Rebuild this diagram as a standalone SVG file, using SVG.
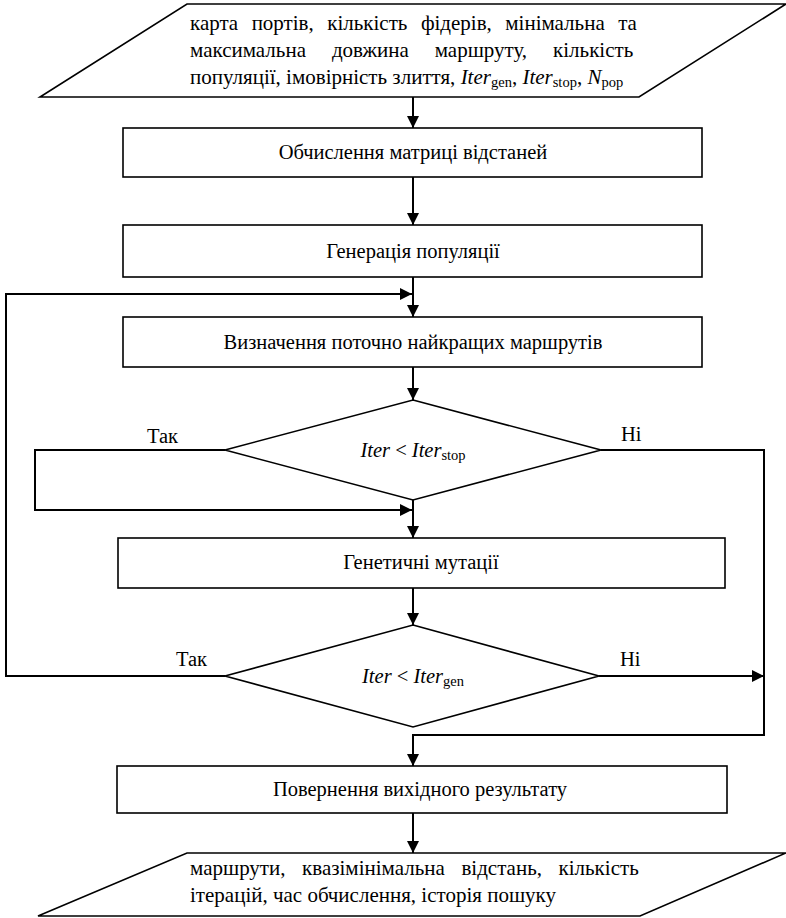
<svg xmlns="http://www.w3.org/2000/svg" width="786" height="918" viewBox="0 0 786 918">
<style>
.shape{fill:#fff;stroke:#000;stroke-width:1.6}
.conn{fill:none;stroke:#000;stroke-width:2}
text{font-family:"Liberation Serif","Times New Roman",serif;font-size:20.5px;fill:#000}
.p{font-size:21px}
.c{text-anchor:middle}
.i{font-style:italic}
.sub{font-size:14.5px}
</style>
<defs>
<marker id="arr" markerWidth="12" markerHeight="12" refX="12" refY="6" orient="auto" markerUnits="userSpaceOnUse">
<path d="M0,0 L12,6 L0,12 Z" fill="#000"/>
</marker>
</defs>
<g id="input">
<polygon class="shape" points="187,4 786,4 639,97 40,97"/>
<text class="p" x="190" y="30" word-spacing="8.2">карта портів, кількість фідерів, мінімальна та</text>
<text class="p" x="190" y="57" word-spacing="20.7">максимальна довжина маршруту, кількість</text>
<text class="p" x="190" y="84">популяції, імовірність злиття, <tspan class="i">Iter</tspan><tspan class="sub" dy="3">gen</tspan><tspan dy="-3">, </tspan><tspan class="i">Iter</tspan><tspan class="sub" dy="3">stop</tspan><tspan dy="-3">, </tspan><tspan class="i">N</tspan><tspan class="sub" dy="3">pop</tspan></text>
</g>
<g id="dist">
<rect class="shape" x="123" y="128" width="579" height="49"/>
<text class="c" x="413" y="159">Обчислення матриці відстаней</text>
</g>
<g id="gen">
<rect class="shape" x="123" y="225" width="579" height="52"/>
<text class="c" x="413" y="258">Генерація популяції</text>
</g>
<g id="best">
<rect class="shape" x="123" y="317" width="579" height="50"/>
<text class="c" x="413" y="349">Визначення поточно найкращих маршрутів</text>
</g>
<g id="cond1">
<polygon class="shape" points="413,400 601,450 413,500 225,450"/>
<text class="c" x="413" y="457"><tspan class="i">Iter</tspan> &lt; <tspan class="i">Iter</tspan><tspan class="sub" dy="3">stop</tspan></text>
</g>
<g id="mut">
<rect class="shape" x="118" y="538" width="607" height="50"/>
<text class="c" x="421" y="569">Генетичні мутації</text>
</g>
<g id="cond2">
<polygon class="shape" points="413,625 599,676 413,727 225,676"/>
<text class="c" x="413" y="683"><tspan class="i">Iter</tspan> &lt; <tspan class="i">Iter</tspan><tspan class="sub" dy="3">gen</tspan></text>
</g>
<g id="ret">
<rect class="shape" x="117" y="766" width="610" height="47"/>
<text class="c" x="420" y="796">Повернення вихідного результату</text>
</g>
<g id="output">
<polygon class="shape" points="187,853 786,853 640,916 38,916"/>
<text class="p" x="190" y="875" word-spacing="11.3">маршрути, квазімінімальна відстань, кількість</text>
<text class="p" x="190" y="902">ітерацій, час обчислення, історія пошуку</text>
</g>
<g id="connectors">
<line class="conn" x1="413" y1="97" x2="413" y2="128" marker-end="url(#arr)"/>
<line class="conn" x1="413" y1="177" x2="413" y2="225" marker-end="url(#arr)"/>
<line class="conn" x1="413" y1="277" x2="413" y2="317" marker-end="url(#arr)"/>
<line class="conn" x1="413" y1="367" x2="413" y2="400" marker-end="url(#arr)"/>
<line class="conn" x1="413" y1="500" x2="413" y2="538" marker-end="url(#arr)"/>
<line class="conn" x1="413" y1="588" x2="413" y2="625" marker-end="url(#arr)"/>
<polyline class="conn" points="225,676 6,676 6,294 412,294" marker-end="url(#arr)"/>
<polyline class="conn" points="225,450 35,450 35,510 412,510" marker-end="url(#arr)"/>
<polyline class="conn" points="601,450 764,450 764,735 413,735 413,766" marker-end="url(#arr)"/>
<line class="conn" x1="599" y1="676" x2="764" y2="676" marker-end="url(#arr)"/>
<line class="conn" x1="413" y1="813" x2="413" y2="853" marker-end="url(#arr)"/>
<text x="147" y="443">Так</text>
<text x="621" y="441">Ні</text>
<text x="176" y="666">Так</text>
<text x="620" y="666">Ні</text>
</g>
</svg>
